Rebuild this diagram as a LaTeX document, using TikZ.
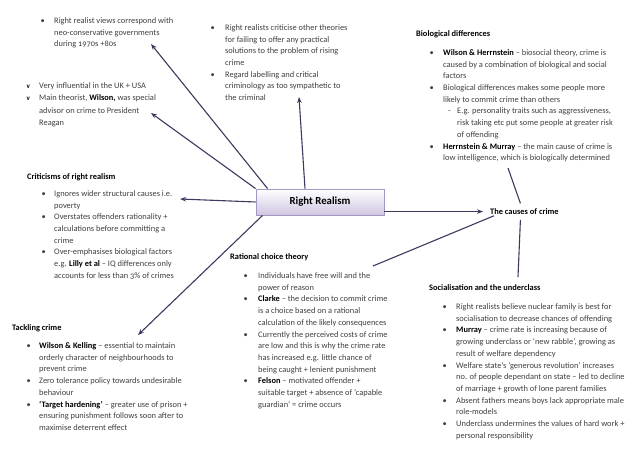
\documentclass[tikz,border=0pt]{standalone}
\usepackage{fontspec}
\setmainfont{Carlito}[Numbers=OldStyle]
\usetikzlibrary{arrows.meta,shadows}
\definecolor{bodygray}{HTML}{404040}
\definecolor{linecol}{HTML}{3C3A5E}
\definecolor{boxbot}{HTML}{CFC6E2}
\definecolor{boxedge}{HTML}{A497C2}
\newcommand\rrfont{\fontsize{8.4}{11.7}\selectfont}
\newcommand\rrbul[1]{\makebox[#1][l]{\textbullet}}
\newcommand\rrvb[1]{\makebox[#1][l]{\raisebox{0.3pt}{\fontsize{7}{8}\selectfont\textbf{\color{black}v}}}}
\newcommand\rrb[1]{{\bfseries\color{black}#1}}
\tikzset{
  txt/.style={anchor=base west, inner sep=0pt, font=\rrfont, text=bodygray},
  ttl/.style={anchor=base west, inner sep=0pt, font=\rrfont\bfseries, text=black},
  conn/.style={draw=linecol, line width=1.1pt},
  arr/.style={conn, -{Stealth[length=6pt,width=4.5pt]}},
  rrbox/.style={minimum width=128pt, minimum height=26pt, draw=boxedge, line width=0.8pt,
    top color=white, bottom color=boxbot, font=\fontsize{10.8}{12}\selectfont\bfseries,
    drop shadow={shadow xshift=1pt, shadow yshift=-1pt, opacity=0.3, fill=gray}},
}
\begin{document}
\begin{tikzpicture}[x=1pt,y=-1pt]
\useasboundingbox (0,0) rectangle (638,452);
\fill[white] (0,0) rectangle (638,452);

% central box
\node[rrbox] (rr) at (320,202) {Right Realism};

% block A
\node[txt, font=\fontsize{8.4}{11.2}\selectfont] (blA) at (40.5,24) {\begin{tabular}[t]{@{}l@{}l@{}}
\rrbul{13.5pt} & Right realist views correspond with\\
 & neo-conservative governments\\
 & during 1970s +80s
\end{tabular}};

% block B
\node[txt, font=\fontsize{8.4}{12.4}\selectfont] (blB) at (26.5,88.5) {\begin{tabular}[t]{@{}l@{}l@{}}
\rrvb{12.5pt} & Very influential in the UK + USA\\
\rrvb{12.5pt} & Main theorist, \rrb{Wilson,} was special\\
 & advisor on crime to President\\
 & Reagan
\end{tabular}};

% block C
\node[txt] (blC) at (210.5,30.5) {\begin{tabular}[t]{@{}l@{}l@{}}
\rrbul{14.5pt} & Right realists criticise other theories\\
 & for failing to offer any practical\\
 & solutions to the problem of rising\\
 & crime\\
\rrbul{14.5pt} & Regard labelling and critical\\
 & criminology as too sympathetic to\\
 & the criminal
\end{tabular}};

% block D
\node[ttl] (tD) at (416,37) {Biological differences};
\node[txt] (blD) at (429.5,55.5) {\begin{tabular}[t]{@{}l@{}l@{}}
\rrbul{13.5pt} & \rrb{Wilson \& Herrnstein} – biosocial theory, crime is\\
 & caused by a combination of biological and social\\
 & factors\\
\rrbul{13.5pt} & Biological differences makes some people more\\
 & likely to commit crime than others\\
 & \makebox[14pt][l]{\hspace{5pt}-}E.g. personality traits such as aggressiveness,\\
 & \hspace{14pt}risk taking etc put some people at greater risk\\
 & \hspace{14pt}of offending\\
\rrbul{13.5pt} & \rrb{Herrnstein \& Murray} – the main cause of crime is\\
 & low intelligence, which is biologically determined
\end{tabular}};

% block E
\node[ttl] (tE) at (27,179) {Criticisms of right realism};
\node[txt] (blE) at (41.5,196.5) {\begin{tabular}[t]{@{}l@{}l@{}}
\rrbul{12.5pt} & Ignores wider structural causes i.e.\\
 & poverty\\
\rrbul{12.5pt} & Overstates offenders rationality +\\
 & calculations before committing a\\
 & crime\\
\rrbul{12.5pt} & Over-emphasises biological factors\\
 & e.g. \rrb{Lilly et al} – IQ differences only\\
 & accounts for less than 3\% of crimes
\end{tabular}};

% block F
\node[ttl] (tF) at (230,259) {Rational choice theory};
\node[txt] (blF) at (243.5,278.5) {\begin{tabular}[t]{@{}l@{}l@{}}
\rrbul{14.5pt} & Individuals have free will and the\\
 & power of reason\\
\rrbul{14.5pt} & \rrb{Clarke} – the decision to commit crime\\
 & is a choice based on a rational\\
 & calculation of the likely consequences\\
\rrbul{14.5pt} & Currently the perceived costs of crime\\
 & are low and this is why the crime rate\\
 & has increased e.g. little chance of\\
 & being caught + lenient punishment\\
\rrbul{14.5pt} & \rrb{Felson} – motivated offender +\\
 & suitable target + absence of ‘capable\\
 & guardian’ = crime occurs
\end{tabular}};

% block G
\node[ttl] (tG) at (12,330) {Tackling crime};
\node[txt] (blG) at (26.5,348.5) {\begin{tabular}[t]{@{}l@{}l@{}}
\rrbul{12.5pt} & \rrb{Wilson \& Kelling} – essential to maintain\\
 & orderly character of neighbourhoods to\\
 & prevent crime\\
\rrbul{12.5pt} & Zero tolerance policy towards undesirable\\
 & behaviour\\
\rrbul{12.5pt} & \rrb{‘Target hardening’} – greater use of prison +\\
 & ensuring punishment follows soon after to\\
 & maximise deterrent effect
\end{tabular}};

% block H
\node[ttl] (tH) at (429,290) {Socialisation and the underclass};
\node[txt] (blH) at (442.5,309.5) {\begin{tabular}[t]{@{}l@{}l@{}}
\rrbul{13.5pt} & Right realists believe nuclear family is best for\\
 & socialisation to decrease chances of offending\\
\rrbul{13.5pt} & \rrb{Murray} – crime rate is increasing because of\\
 & growing underclass or ‘new rabble’, growing as\\
 & result of welfare dependency\\
\rrbul{13.5pt} & Welfare state’s ‘generous revolution’ increases\\
 & no. of people dependant on state – led to decline\\
 & of marriage + growth of lone parent families\\
\rrbul{13.5pt} & Absent fathers means boys lack appropriate male\\
 & role-models\\
\rrbul{13.5pt} & Underclass undermines the values of hard work +\\
 & personal responsibility
\end{tabular}};

% causes of crime
\node[ttl, inner sep=5pt] (cc) at (485,214.5) {The causes of crime};

% arrow end points
\coordinate (eA) at (151,44);
\coordinate (eB) at (151,113);
\coordinate (eC) at (299,97);
\coordinate (eE) at (180,199);
\coordinate (eG) at (138,335);
\coordinate (eD) at (508,168);
\coordinate (eF) at (373,266);
\coordinate (eH) at (518,277);

\draw[arr] ([xshift=12pt]rr.north west) -- (eA);
\draw[arr] (rr.north west) -- (eB);
\draw[arr] ([xshift=-15pt]rr.north) -- (eC);
\draw[arr] (rr.west) -- (eE);
\draw[arr] ([xshift=7pt]rr.south west) -- (eG);
\draw[arr] (rr.east |- cc.west) -- ([xshift=-2pt]cc.west);
\draw[conn] ([xshift=-4pt]cc.north) -- (eD);
\draw[conn] ([shift={(9pt,4pt)}]cc.south west) -- (eF);
\draw[conn] ([xshift=-4pt]cc.south) -- (eH);
\end{tikzpicture}
\end{document}
